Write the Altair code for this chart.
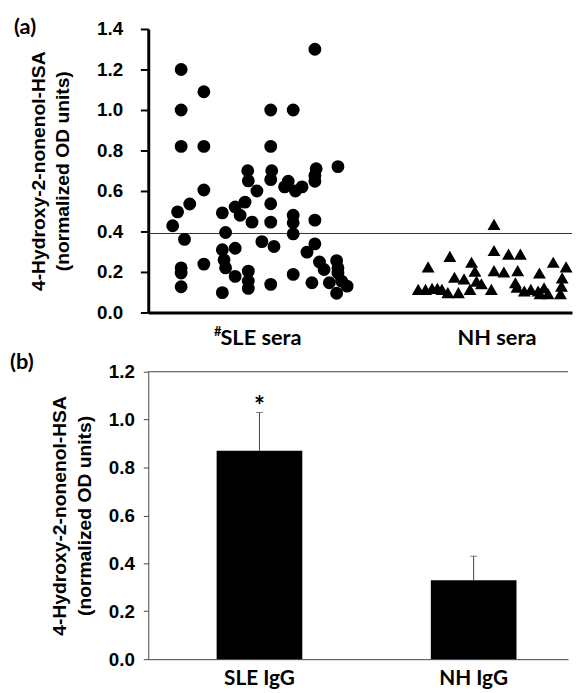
import altair as alt
import pandas as pd

# ---------------- Panel (a): individual sera ----------------
# x = horizontal scatter position (0-100 axis units), y = normalized OD
sle_x = [7.76, 13.12, 7.76, 7.76, 13.12, 39.32, 28.90, 34.20, 28.90, 44.76,
         23.47, 23.61, 29.14, 28.90, 39.63, 39.32, 39.32, 33.03, 32.17, 34.73,
         36.29, 25.64, 13.12, 9.79, 6.92, 5.76, 8.55, 17.48, 20.51, 21.68,
         22.84, 24.48, 28.90, 28.90, 34.20, 34.20, 34.20, 39.32, 18.25, 26.81,
         29.67, 17.48, 20.51, 39.32, 37.46, 17.88, 18.25, 13.12, 7.76, 7.76,
         7.76, 20.51, 23.61, 23.61, 23.61, 17.48, 28.90, 34.20, 38.62, 40.40,
         41.49, 42.73, 44.45, 44.76, 44.76, 45.62, 46.92, 44.45]
sle_y = [1.20, 1.09, 1.00, 0.82, 0.82, 1.30, 1.00, 1.00, 0.82, 0.72,
         0.70, 0.65, 0.70, 0.656, 0.71, 0.676, 0.648, 0.648, 0.62, 0.60,
         0.62, 0.60, 0.605, 0.536, 0.497, 0.428, 0.361, 0.492, 0.521, 0.48,
         0.545, 0.446, 0.537, 0.446, 0.48, 0.443, 0.388, 0.456, 0.395, 0.35,
         0.326, 0.31, 0.317, 0.339, 0.298, 0.26, 0.22, 0.239, 0.22, 0.195,
         0.127, 0.178, 0.204, 0.155, 0.119, 0.098, 0.139, 0.188, 0.147, 0.249,
         0.212, 0.147, 0.256, 0.22, 0.195, 0.155, 0.13, 0.095]
nh_x = [81.59, 81.59, 85.01, 87.81, 71.17, 66.04, 76.29, 77.09, 81.59, 83.92,
        87.18, 95.57, 98.60, 92.31, 72.26, 74.52, 77.46, 78.62, 86.64, 87.02,
        97.67, 97.51, 63.71, 65.43, 66.97, 68.23, 69.30, 70.70, 73.19, 75.92,
        80.96, 90.28, 92.00, 93.40, 94.34, 92.47, 97.27, 88.74]
nh_y = [0.435, 0.306, 0.288, 0.288, 0.277, 0.225, 0.248, 0.204, 0.207, 0.20,
        0.207, 0.248, 0.225, 0.195, 0.174, 0.166, 0.155, 0.142, 0.147, 0.125,
        0.171, 0.13, 0.114, 0.114, 0.119, 0.119, 0.114, 0.098, 0.098, 0.114,
        0.114, 0.114, 0.106, 0.122, 0.093, 0.093, 0.093, 0.106]
cutoff = 0.39
group_names = ["SLE sera", "NH sera"]
group_label_x = [26.6, 82.3]

# ---------------- Panel (b): purified IgG ----------------
igg_groups = ["SLE IgG", "NH IgG"]
igg_mean = [0.87, 0.33]
igg_err = [0.16, 0.10]
igg_mark = ["*", ""]

TICK_FONT = "Liberation Sans"
CAT_FONT = "Lato"
Y_TITLE = ["4-Hydroxy-2-nonenol-HSA", "(normalized OD units)"]
TICK_FS = 19
TITLE_FS = 19.5

# ---------- build panel (a) ----------
pts = pd.DataFrame({
    "x": sle_x + nh_x,
    "y": sle_y + nh_y,
    "group": ["SLE sera"] * len(sle_x) + ["NH sera"] * len(nh_x),
})
WA, HA = 429, 287

xA = alt.X("x:Q", scale=alt.Scale(domain=[0, 100], nice=False, zero=False),
           axis=alt.Axis(labels=False, ticks=False, title=None, grid=False,
                         domainWidth=3, domainColor="black"))
yA = alt.Y("y:Q", scale=alt.Scale(domain=[0, 1.4], nice=False),
           axis=alt.Axis(values=[0, 0.2, 0.4, 0.6, 0.8, 1.0, 1.2, 1.4], format=".1f",
                         grid=False, domainWidth=3, domainColor="black",
                         tickWidth=2, tickSize=8, tickColor="black",
                         labelFont=TICK_FONT, labelFontWeight="bold", labelFontSize=TICK_FS,
                         labelColor="black", labelPadding=18,
                         title=Y_TITLE, titleFont=TICK_FONT, titleFontWeight="bold",
                         titleFontSize=TITLE_FS, titleColor="black", titlePadding=24,
                         titleLineHeight=25))

points = alt.Chart(pts).mark_point(filled=True, size=170, opacity=1, color="black").encode(
    x=xA, y=yA,
    shape=alt.Shape("group:N", scale=alt.Scale(domain=group_names, range=["circle", "triangle-up"]),
                    legend=None),
)
cut_rule = alt.Chart(pd.DataFrame({"c": [cutoff]})).mark_rule(color="#333333", strokeWidth=1).encode(
    y=alt.Y("c:Q"))
lab_df = pd.DataFrame({"label": group_names, "xc": group_label_x})
cat_labels = alt.Chart(lab_df).mark_text(font=CAT_FONT, fontWeight="bold", fontSize=22,
                                         baseline="middle", color="black").encode(
    x=alt.X("xc:Q"), y=alt.value(HA + 26), text="label:N")
hash_mark = alt.Chart(lab_df.iloc[:1]).mark_text(font=CAT_FONT, fontWeight="bold", fontSize=13,
                                                 align="right", baseline="middle", dx=-40,
                                                 color="black").encode(
    x=alt.X("xc:Q"), y=alt.value(HA + 20), text=alt.value("#"))
tag_a = alt.Chart(pd.DataFrame({"t": ["(a)"]})).mark_text(
    font=CAT_FONT, fontWeight="bold", fontSize=22, align="left", baseline="middle", color="black"
).encode(x=alt.value(-136), y=alt.value(-2), text="t:N")

panelA = alt.layer(cut_rule, points, cat_labels, hash_mark, tag_a).properties(width=WA, height=HA)

# ---------- build panel (b) ----------
bars_df = pd.DataFrame({"g": igg_groups, "m": igg_mean, "e": igg_err, "s": igg_mark})
bars_df["hi"] = bars_df["m"] + bars_df["e"]
WB, HB = 425, 291

xB = alt.X("g:N", sort=igg_groups,
           scale=alt.Scale(paddingInner=0.6, paddingOuter=0.28, align=0.57),
           axis=alt.Axis(title=None, labelAngle=0, ticks=False, domainColor="#444444", domainWidth=1,
                         labelFont=CAT_FONT, labelFontWeight="bold", labelFontSize=21,
                         labelColor="black", labelPadding=9, grid=False))
yB = alt.Y("m:Q", scale=alt.Scale(domain=[0, 1.2], nice=False),
           axis=alt.Axis(values=[0, 0.2, 0.4, 0.6, 0.8, 1.0, 1.2], format=".1f", grid=False,
                         domainColor="#444444", domainWidth=1, tickColor="#444444", tickSize=5,
                         labelFont=TICK_FONT, labelFontWeight="bold", labelFontSize=TICK_FS,
                         labelColor="black", labelPadding=9,
                         title=Y_TITLE, titleFont=TICK_FONT, titleFontWeight="bold",
                         titleFontSize=TITLE_FS, titleColor="black", titlePadding=14,
                         titleLineHeight=25))

base_b = alt.Chart(bars_df)
bars = base_b.mark_bar(color="black").encode(x=xB, y=yB)
err_rule = base_b.mark_rule(color="#444444", strokeWidth=1).encode(
    x=alt.X("g:N", sort=igg_groups), y=alt.Y("m:Q"), y2="hi:Q")
err_cap = base_b.mark_tick(color="#444444", thickness=1, size=7, orient="horizontal").encode(
    x=alt.X("g:N", sort=igg_groups), y=alt.Y("hi:Q"))
star = base_b.mark_text(font=CAT_FONT, fontWeight="bold", fontSize=26, baseline="middle",
                        dy=-5, color="black").encode(
    x=alt.X("g:N", sort=igg_groups), y=alt.Y("hi:Q"), text="s:N")
top_line = alt.Chart(pd.DataFrame({"t": [1.2]})).mark_rule(color="#444444", strokeWidth=1).encode(
    y=alt.Y("t:Q"))
tag_b = alt.Chart(pd.DataFrame({"t": ["(b)"]})).mark_text(
    font=CAT_FONT, fontWeight="bold", fontSize=22, align="left", baseline="middle", color="black"
).encode(x=alt.value(-140), y=alt.value(-10), text="t:N")

panelB = alt.layer(top_line, bars, err_rule, err_cap, star, tag_b).properties(width=WB, height=HB)

chart = alt.concat(panelA, panelB, columns=1, spacing=2, align="none").properties(
    padding={"left": 2, "top": 4, "right": 0, "bottom": 0}
).configure_view(stroke=None)

chart.save("out.html", embed_options={"renderer": "svg", "actions": False})
